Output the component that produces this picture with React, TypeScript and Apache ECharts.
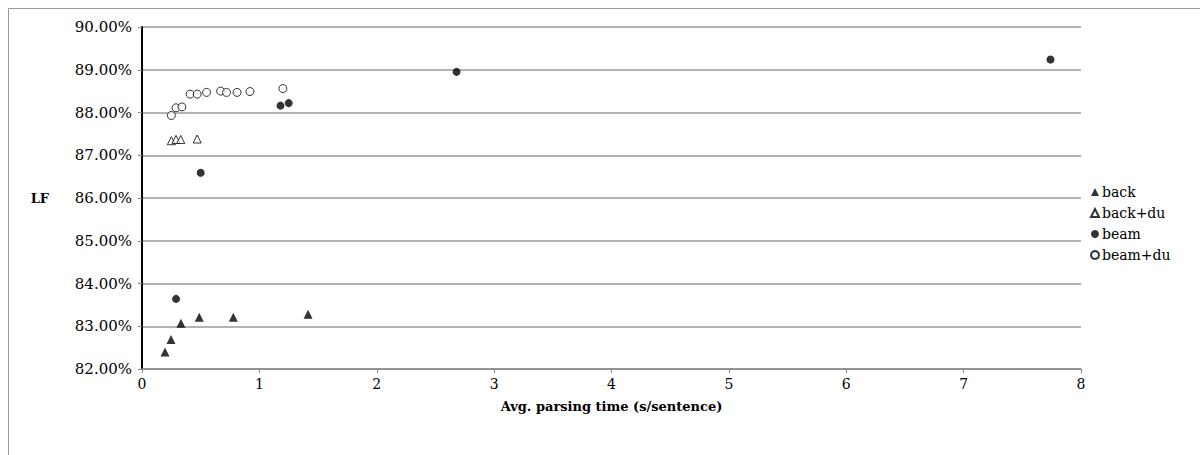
import React, { useEffect, useRef } from "react";
import * as echarts from "echarts";

const seriesNames = ["back", "back+du", "beam", "beam+du"];

const backX = [0.196, 0.247, 0.332, 0.488, 0.778, 1.415];
const backY = [82.4, 82.69, 83.07, 83.21, 83.21, 83.28];

const backDuX = [0.25, 0.29, 0.33, 0.47];
const backDuY = [87.34, 87.37, 87.37, 87.38];

const beamX = [0.29, 0.5, 1.18, 1.25, 2.68, 7.74];
const beamY = [83.64, 86.59, 88.16, 88.22, 88.95, 89.24];

const beamDuX = [0.25, 0.29, 0.34, 0.41, 0.47, 0.55, 0.67, 0.72, 0.81, 0.92, 1.2];
const beamDuY = [87.93, 88.11, 88.13, 88.43, 88.43, 88.47, 88.5, 88.47, 88.47, 88.49, 88.56];

const xTicks = [0, 8, 1];
const yTicks = [82, 90, 1];

const zip = (xs: number[], ys: number[]) => xs.map((x, i) => [x, ys[i]]);

const FONT = "'DejaVu Serif', 'Liberation Serif', serif";

export default function App() {
  const ref = useRef<HTMLDivElement>(null);
  useEffect(() => {
    document.body.style.margin = "0";
    if (!ref.current) return;
    const chart = echarts.init(ref.current, undefined, { renderer: "svg" });
    chart.setOption({
      animation: false,
      backgroundColor: "#fff",
      textStyle: { fontFamily: FONT },
      graphic: [
        {
          type: "rect",
          shape: { x: 8.5, y: 8.5, width: 1300, height: 600 },
          style: { fill: "none", stroke: "#9a9a9a", lineWidth: 1 },
          silent: true,
        },
      ],
      grid: { left: 142, right: 119, top: 27, bottom: 86 },
      xAxis: {
        type: "value",
        min: xTicks[0],
        max: xTicks[1],
        interval: xTicks[2],
        name: "Avg. parsing time (s/sentence)",
        nameLocation: "middle",
        nameGap: 31,
        nameTextStyle: { fontFamily: FONT, fontSize: 13, fontWeight: "bold", color: "#000" },
        axisLine: { lineStyle: { color: "#888", width: 1.5 } },
        axisTick: { show: true, length: 4, lineStyle: { color: "#888" } },
        axisLabel: { fontFamily: FONT, fontSize: 14, color: "#000", margin: 8 },
        splitLine: { show: false },
      },
      yAxis: {
        type: "value",
        min: yTicks[0],
        max: yTicks[1],
        interval: yTicks[2],
        name: "LF",
        nameLocation: "middle",
        nameRotate: 0,
        nameGap: 93,
        nameTextStyle: { fontFamily: FONT, fontSize: 13, fontWeight: "bold", color: "#000" },
        axisLine: { show: true, lineStyle: { color: "#000", width: 2 } },
        axisTick: { show: true, length: 4, lineStyle: { color: "#888" } },
        axisLabel: {
          fontFamily: FONT,
          fontSize: 15,
          color: "#000",
          margin: 10,
          formatter: (v: number) => v.toFixed(2) + "%",
        },
        splitLine: { show: true, lineStyle: { color: "#9a9a9a", width: 1.5 } },
      },
      legend: {
        orient: "vertical",
        left: 1085,
        top: 180,
        itemWidth: 8,
        itemHeight: 8,
        itemGap: 7,
        textStyle: { fontFamily: FONT, fontSize: 14, color: "#000", padding: [0, 0, 0, -2] },
        data: seriesNames,
      },
      series: [
        {
          name: seriesNames[0],
          type: "scatter",
          symbol: "triangle",
          symbolSize: 9,
          itemStyle: { color: "#000" },
          data: zip(backX, backY),
        },
        {
          name: seriesNames[1],
          type: "scatter",
          symbol: "triangle",
          symbolSize: 8,
          itemStyle: { color: "#fff", borderColor: "#000", borderWidth: 1 },
          data: zip(backDuX, backDuY),
        },
        {
          name: seriesNames[2],
          type: "scatter",
          symbol: "circle",
          symbolSize: 8,
          itemStyle: { color: "#000" },
          data: zip(beamX, beamY),
        },
        {
          name: seriesNames[3],
          type: "scatter",
          symbol: "circle",
          symbolSize: 8,
          itemStyle: { color: "#fff", borderColor: "#000", borderWidth: 1 },
          data: zip(beamDuX, beamDuY),
        },
      ],
    });
    return () => chart.dispose();
  }, []);
  return <div ref={ref} style={{ width: 1200, height: 455 }} />;
}
